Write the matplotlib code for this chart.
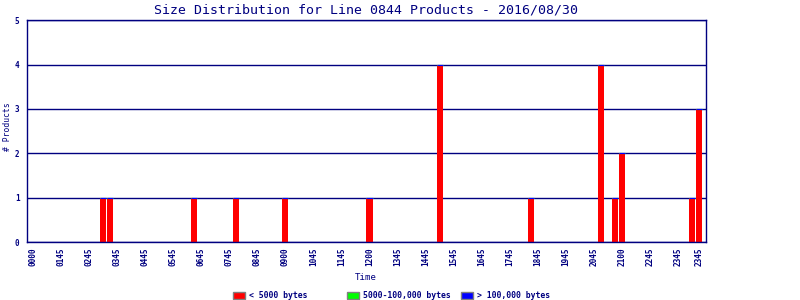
import matplotlib
matplotlib.use("Agg")
import matplotlib.pyplot as plt
from matplotlib.patches import Rectangle
import numpy as np

# Данные: 96 слотов по времени, столбики только там где есть продукты
n_slots = 96
slots = [10, 11, 23, 29, 36, 48, 58, 71, 81, 83, 84, 94, 95]
small = [1, 1, 1, 1, 1, 1, 4, 1, 4, 1, 2, 1, 3]      # < 5000 bytes
medium = [0] * len(slots)                             # 5000-100,000 bytes
large = [0] * len(slots)                              # > 100,000 bytes

tick_slots = list(range(0, 93, 4)) + [95]
tick_labels = ["0000", "0145", "0245", "0345", "0445", "0545", "0645", "0745",
               "0845", "0900", "1045", "1145", "1200", "1345", "1445", "1545",
               "1645", "1745", "1845", "1945", "2045", "2100", "2245", "2345", "2345"]

series_names = ["< 5000 bytes", "5000-100,000 bytes", "> 100,000 bytes"]
series_colors = ["#ff0000", "#00ff00", "#0000ff"]

navy = "#000080"
mono = "DejaVu Sans Mono"

fig = plt.figure(figsize=(8, 3), dpi=100)
ax = fig.add_axes([26.5 / 800, 1 - 242 / 300, (705.7 - 26.5) / 800, (242 - 20.3) / 300])

x = np.array(slots)
w = 0.88
s = np.array(small)
m = np.array(medium)
l = np.array(large)
ax.bar(x, s, width=w, color=series_colors[0], linewidth=0, zorder=2)
ax.bar(x, m, width=w, bottom=s, color=series_colors[1], edgecolor=series_colors[1], linewidth=0.8, zorder=3)
ax.bar(x, l, width=w, bottom=s + m, color=series_colors[2], edgecolor=series_colors[2], linewidth=0.8, zorder=4)

ax.set_xlim(-0.93, 95.95)
ax.set_ylim(0, 5)
ax.set_yticks(range(6))
ax.set_yticklabels([str(i) for i in range(6)], fontfamily=mono, fontweight="bold", fontsize=5.5, color=navy)
ax.set_xticks(tick_slots)
ax.set_xticklabels(tick_labels, rotation=90, fontfamily=mono, fontweight="bold", fontsize=5.6, color=navy)
ax.tick_params(axis="both", length=0)
ax.tick_params(axis="x", pad=4)
ax.tick_params(axis="y", pad=5)
for sp in ax.spines.values():
    sp.set_color(navy)
    sp.set_linewidth(1.0)
ax.yaxis.grid(True, color=navy, linewidth=1.0, zorder=1)
ax.set_axisbelow(True)

ax.set_title("Size Distribution for Line 0844 Products - 2016/08/30", fontfamily=mono, fontsize=9.5, color=navy, pad=5)
fig.text(366 / 800, 1 - 277 / 300, "Time", ha="center", va="center", fontfamily=mono, fontsize=6.6, color=navy)
fig.text(8 / 800, 1 - 127 / 300, "# Products", ha="center", va="center", rotation=90, fontfamily=mono, fontsize=5.8, color=navy)

# Легенда вручную, колонки через равные промежутки
box_x = [233, 347, 461]
for bx, name, col in zip(box_x, series_names, series_colors):
    fig.add_artist(Rectangle((bx / 800, 1 - 299.3 / 300), 12 / 800, 7.6 / 300,
                             transform=fig.transFigure, facecolor=col, edgecolor="#808080", linewidth=1))
    fig.text((bx + 16) / 800, 1 - 295.5 / 300, name, ha="left", va="center",
             fontfamily=mono, fontweight="bold", fontsize=5.9, color=navy)

fig.savefig("out.png", dpi=100)
